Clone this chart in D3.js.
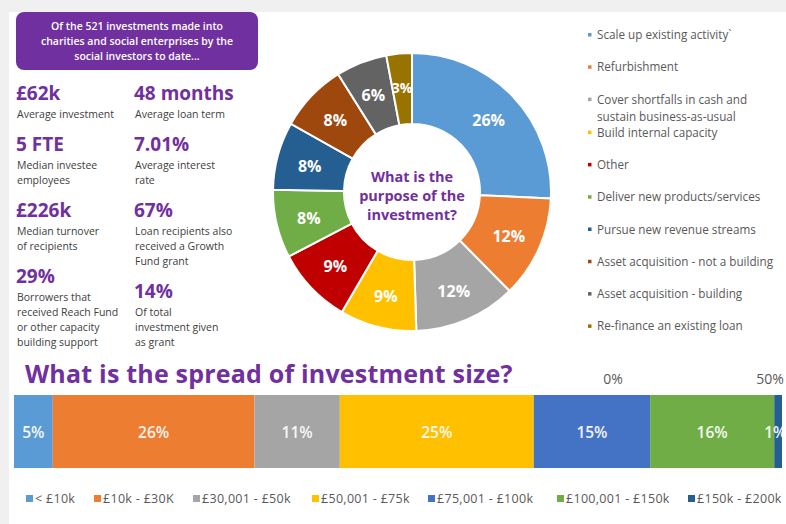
<!DOCTYPE html>
<html lang="en">
<head>
    <meta charset="UTF-8">
    <title>Social investment summary</title>
    <script src="https://cdnjs.cloudflare.com/ajax/libs/d3/7.8.5/d3.min.js"></script>
    <style>
        body { margin: 0; background: #f0f0f0; }
        svg { display: block; }
        text { font-family: "Open Sans", Arial, sans-serif; }
    </style>
</head>
<body>
<div id="chart"></div>
<script>
    // headline box
    const introLines = ["Of the 521 investments made into", "charities and social enterprises by the", "social investors to date..."];

    // key stats, two columns
    const statValues = ["£62k", "48 months", "5 FTE", "7.01%", "£226k", "67%", "29%", "14%"];
    const statCaptions = [
        ["Average investment"], ["Average loan term"],
        ["Median investee", "employees"], ["Average interest", "rate"],
        ["Median turnover", "of recipients"], ["Loan recipients also", "received a Growth", "Fund grant"],
        ["Borrowers that", "received Reach Fund", "or other capacity", "building support"],
        ["Of total", "investment given", "as grant"]
    ];

    // purpose donut
    const purposes = ["Scale up existing activity`", "Refurbishment", "Cover shortfalls in cash and sustain business-as-usual",
        "Build internal capacity", "Other", "Deliver new products/services", "Pursue new revenue streams",
        "Asset acquisition - not a building", "Asset acquisition - building", "Re-finance an existing loan"];
    const purposeShares = [26, 12, 12, 9, 9, 8, 8, 8, 6, 3];
    const purposeColors = ["#5b9bd5", "#ed7d31", "#a5a5a5", "#ffc000", "#c00000", "#70ad47", "#255e91", "#9e480e", "#636363", "#997300"];
    const donutTitle = ["What is the", "purpose of the", "investment?"];

    // investment size bar
    const sizeBands = ["< £10k", "£10k - £30K", "£30,001 - £50k", "£50,001 - £75k", "£75,001 - £100k", "£100,001 - £150k", "£150k - £200k"];
    const sizeShares = [5, 26, 11, 25, 15, 16, 1];
    const sizeColors = ["#5b9bd5", "#ed7d31", "#a5a5a5", "#ffc000", "#4472c4", "#70ad47", "#255e91"];
    const axisTicks = ["0%", "50%"];

    const width = 786, height = 524;
    const purple = "#7030a0";
    const grey = "#595959";

    const svg = d3.select("#chart").append("svg")
        .attr("width", width).attr("height", height);

    svg.append("rect").attr("width", width).attr("height", height).attr("fill", "#f0f0f0");
    svg.append("rect").attr("x", 9).attr("y", 12).attr("width", width - 9).attr("height", height - 12).attr("fill", "#fff");

    // intro box
    svg.append("rect").attr("x", 16).attr("y", 12).attr("width", 242).attr("height", 58)
        .attr("rx", 8).attr("fill", "#7030a0");
    svg.append("g").selectAll("text").data(introLines).join("text")
        .attr("x", 137).attr("y", (d, i) => 30 + i * 15)
        .attr("text-anchor", "middle").attr("fill", "#fff")
        .attr("font-size", 10.5).attr("font-weight", 600)
        .text(d => d);

    // stats, stacked in two columns
    const colX = [17, 135];
    const colY = [100, 100];
    statValues.forEach((v, i) => {
        const c = i % 2;
        const y = colY[c];
        const x = colX[c];
        svg.append("text").attr("x", x - 1).attr("y", y)
            .attr("fill", purple).attr("font-size", 19).attr("font-weight", 700)
            .text(v);
        statCaptions[i].forEach((line, j) => {
            svg.append("text").attr("x", x).attr("y", y + 18 + j * 15)
                .attr("fill", "#404040").attr("font-size", 10.5)
                .text(line);
        });
        colY[c] = y + 18 + (statCaptions[i].length - 1) * 15 + 33;
    });

    // donut
    const cx = 412, cy = 192;
    const pie = d3.pie().sort(null).value(d => d);
    const arc = d3.arc().innerRadius(68).outerRadius(139);
    const labelArc = d3.arc().innerRadius(106).outerRadius(106);
    const donut = svg.append("g").attr("transform", `translate(${cx},${cy})`);
    const arcs = pie(purposeShares);
    donut.selectAll("path").data(arcs).join("path")
        .attr("d", arc)
        .attr("fill", (d, i) => purposeColors[i])
        .attr("stroke", "#fff").attr("stroke-width", 2);
    donut.selectAll("text.lbl").data(arcs).join("text")
        .attr("class", "lbl")
        .attr("transform", d => `translate(${labelArc.centroid(d)})`)
        .attr("text-anchor", "middle").attr("dy", "0.45em")
        .attr("fill", "#fff").attr("font-size", d => d.data < 5 ? 14 : 16).attr("font-weight", 700)
        .text(d => d.data + "%");
    donut.selectAll("text.title").data(donutTitle).join("text")
        .attr("class", "title")
        .attr("y", (d, i) => -10 + i * 19)
        .attr("text-anchor", "middle")
        .attr("fill", purple).attr("font-size", 14.5).attr("font-weight", 700)
        .text(d => d);

    // purpose legend
    const legend = svg.append("g");
    let ly = 39;
    purposes.forEach((p, i) => {
        const lines = i === 2 ? ["Cover shortfalls in cash and", "sustain business-as-usual"] : [p];
        legend.append("rect").attr("x", 588).attr("y", ly - 6).attr("width", 3.5).attr("height", 3.5)
            .attr("fill", purposeColors[i]);
        lines.forEach((l, j) => {
            legend.append("text").attr("x", 597).attr("y", ly + j * 17)
                .attr("fill", grey).attr("font-size", 11.7).text(l);
        });
        ly += i === 2 ? 33 : 32.3;
    });

    // size bar
    svg.append("text").attr("x", 25).attr("y", 383)
        .attr("fill", purple).attr("font-size", 25).attr("font-weight", 700)
        .attr("letter-spacing", 0.2)
        .text("What is the spread of investment size?");
    svg.selectAll("text.tick").data(axisTicks).join("text")
        .attr("class", "tick")
        .attr("x", (d, i) => 613 + i * 157).attr("y", 384)
        .attr("text-anchor", "middle").attr("fill", grey).attr("font-size", 14)
        .text(d => d);

    const total = d3.sum(sizeShares);
    const x = d3.scaleLinear().domain([0, total]).range([14, 782]);
    const stacked = d3.cumsum([0].concat(sizeShares));
    const bar = svg.append("g");
    bar.selectAll("rect").data(sizeShares).join("rect")
        .attr("x", (d, i) => x(stacked[i]))
        .attr("width", (d, i) => x(stacked[i] + d) - x(stacked[i]))
        .attr("y", 395).attr("height", 73)
        .attr("fill", (d, i) => sizeColors[i]);
    bar.selectAll("text").data(sizeShares).join("text")
        .attr("x", (d, i) => d < 3 ? x(stacked[i]) - 10 : x(stacked[i] + d / 2))
        .attr("y", 438)
        .attr("text-anchor", d => d < 3 ? "start" : "middle")
        .attr("fill", "#fff").attr("font-size", 15.5).attr("font-weight", 600).attr("opacity", 0.92)
        .text(d => d + "%");

    // size legend
    const legendX = [26, 94, 193, 312, 428, 557, 688];
    const sl = svg.append("g");
    sl.selectAll("rect").data(sizeBands).join("rect")
        .attr("x", (d, i) => legendX[i]).attr("y", 495).attr("width", 7).attr("height", 7)
        .attr("fill", (d, i) => sizeColors[i]);
    sl.selectAll("text").data(sizeBands).join("text")
        .attr("x", (d, i) => legendX[i] + 9).attr("y", 503)
        .attr("fill", grey).attr("font-size", 12.5).attr("letter-spacing", 0.3)
        .text(d => d);
</script>
</body>
</html>
